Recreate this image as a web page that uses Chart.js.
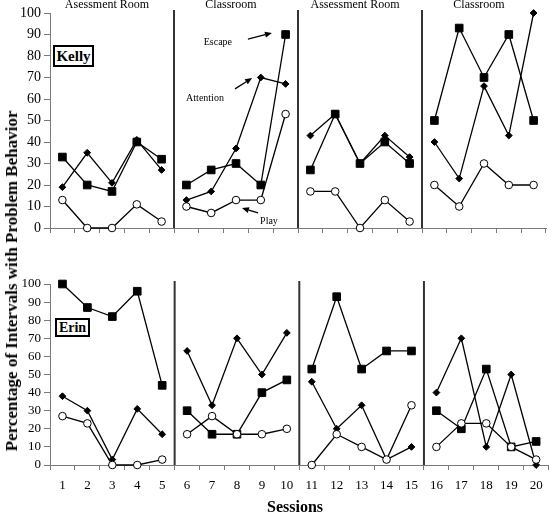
<!DOCTYPE html>
<html><head><meta charset="utf-8">
<script src="https://cdn.jsdelivr.net/npm/chart.js@4.4.0/dist/chart.umd.min.js"></script>
<style>
html,body{margin:0;padding:0;background:#fff;}
#wrap{position:relative;width:555px;height:514px;overflow:hidden;font-family:"Liberation Serif","Times New Roman",serif;color:#000;}
canvas{position:absolute;left:0;}
#c1{top:0;}
#c2{top:240px;}
.box{position:absolute;box-sizing:border-box;border:2px solid #000;font-weight:bold;display:flex;align-items:center;justify-content:center;background:#fff;}
#ytitle{position:absolute;left:12px;top:281px;transform:translate(-50%,-50%) rotate(-90deg);white-space:nowrap;font-weight:bold;font-size:17px;}
#xtitle{position:absolute;left:295px;top:507px;transform:translate(-50%,-50%);white-space:nowrap;font-weight:bold;font-size:16px;}
</style></head>
<body>
<div id="wrap">
<canvas id="c1" width="555" height="240"></canvas>
<canvas id="c2" width="555" height="274"></canvas>
<div id="ytitle">Percentage of Intervals with Problem Behavior</div>
<div id="xtitle">Sessions</div>
<div class="box" style="left:53px;top:45px;width:41px;height:22px;font-size:15px;">Kelly</div>
<div class="box" style="left:55px;top:318px;width:35px;height:19px;font-size:14px;">Erin</div>
</div>
<script>
// ---------- data ----------
const sessions = ['1','2','3','4','5','6','7','8','9','10','11','12','13','14','15','16','17','18','19','20'];
const phaseNames = ['Asessment Room','Classroom','Assessment Room','Classroom'];
const phaseEnds = [5,10,15];           // last session of each phase
const yMin = 0, yMax = 100, yStep = 10;

const kellyEscape    = [33,20,17,40,32, 20,27,30,20,90, 27,53,30,40,30, 50,93,70,90,50];
const kellyAttention = [19,35,21,41,27, 13,17,37,70,67, 43,53,30,43,33, 40,23,66,43,100];
const kellyPlay      = [13,0,0,11,3,    10,7,13,13,53,  17,17,0,13,3,   20,10,30,20,20];

const erinEscape     = [100,87,82,96,44, 30,17,17,40,47, 53,93,53,63,63, 30,20,53,10,13];
const erinAttention  = [38,30,3,31,17,   63,33,70,50,73, 46,20,33,3,10,  40,70,10,50,0];
const erinPlay       = [27,23,0,0,3,     17,27,17,17,20, 0,17,10,3,33,   10,23,23,10,3];

// annotations for Kelly (session position, value)
const noteLabels = ['Escape','Attention','Play'];
const noteText   = [[7.27,86.5],[6.75,60.5],[9.33,3.3]];
const noteFrom   = [[8.48,87.9],[7.96,64.7],[8.89,7.0]];
const noteTo     = [[9.45,90.7],[8.65,69.8],[8.24,9.3]];

// ---------- drawing ----------
const FONT = '"Liberation Serif","Times New Roman",serif';
const AXIS = '#7a7a7a';
const breakIdx = phaseEnds.map(s => sessions.indexOf(String(s)));

function ds(label, data, style, order) {
  const base = {label, data, order, borderColor:'#000', borderWidth:1.3, clip:false, tension:0,
    pointBorderColor:'#000', pointBorderWidth:1, pointHoverRadius:0,
    segment:{borderColor: c => breakIdx.includes(c.p0DataIndex) ? 'rgba(0,0,0,0)' : '#000'}};
  if (style==='rect') Object.assign(base,{pointStyle:'rect', pointRadius:5.4, pointBackgroundColor:'#000'});
  if (style==='rectRot') Object.assign(base,{pointStyle:'rectRot', pointRadius:3.4, pointBackgroundColor:'#000'});
  if (style==='circle') Object.assign(base,{pointStyle:'circle', pointRadius:3.8, pointBackgroundColor:'#fff'});
  return base;
}

function arrow(ctx, x1, y1, x2, y2) {
  const ang = Math.atan2(y2-y1, x2-x1), L = 7, W = 3;
  const bx = x2 - L*Math.cos(ang), by = y2 - L*Math.sin(ang);
  ctx.beginPath(); ctx.moveTo(x1,y1); ctx.lineTo(bx,by); ctx.stroke();
  ctx.beginPath();
  ctx.moveTo(x2,y2);
  ctx.lineTo(bx + W*Math.sin(ang), by - W*Math.cos(ang));
  ctx.lineTo(bx - W*Math.sin(ang), by + W*Math.cos(ang));
  ctx.closePath(); ctx.fill();
}

const phasePlugin = {
  id:'phases',
  beforeDatasetsDraw(chart, args, o) {
    const {ctx, chartArea:a, scales:{x}} = chart;
    ctx.save();
    ctx.strokeStyle = '#333'; ctx.lineWidth = 2;
    phaseEnds.forEach(s => {
      const px = x.getPixelForValue(s - 0.5);
      ctx.beginPath(); ctx.moveTo(px, a.top - 3); ctx.lineTo(px, a.bottom); ctx.stroke();
    });
    if (o.showNames) {
      ctx.fillStyle = '#000'; ctx.font = '12px ' + FONT; ctx.textAlign = 'center'; ctx.textBaseline = 'alphabetic';
      phaseNames.forEach((n, p) => ctx.fillText(n, x.getPixelForValue(p*5 + 2) - 5, o.nameY));
    }
    ctx.restore();
  },
  afterDatasetsDraw(chart, args, o) {
    if (!o.notes) return;
    const {ctx, scales:{x, y}} = chart;
    const P = (pt) => [x.getPixelForValue(pt[0]-1), y.getPixelForValue(pt[1])];
    ctx.save();
    ctx.fillStyle = '#000'; ctx.strokeStyle = '#000'; ctx.lineWidth = 1.3;
    ctx.font = '10px ' + FONT; ctx.textAlign = 'center'; ctx.textBaseline = 'middle';
    noteLabels.forEach((t, i) => {
      const [tx, ty] = P(noteText[i]);
      ctx.fillText(t, tx, ty);
      const [ax, ay] = P(noteFrom[i]); const [bx, by] = P(noteTo[i]);
      arrow(ctx, ax, ay, bx, by);
    });
    ctx.restore();
  }
};

function makeChart(id, esc, att, play, cfg) {
  return new Chart(document.getElementById(id), {
    type:'line',
    data:{labels:sessions, datasets:[
      ds('Play', play, 'circle', 0),
      ds('Escape', esc, 'rect', 1),
      ds('Attention', att, 'rectRot', 2)
    ]},
    options:{
      responsive:false, animation:false, events:[],
      layout:{padding:{top:cfg.padTop, right:cfg.padRight, left:0, bottom:0}},
      plugins:{legend:{display:false}, tooltip:{enabled:false},
        phases:{showNames:cfg.showNames, nameY:8, notes:cfg.notes}},
      scales:{
        x:{type:'category', offset:true,
          grid:{offset:true, drawOnChartArea:false, drawTicks:true, tickLength:5, color:AXIS},
          border:{color:AXIS, width:1},
          ticks:{display:cfg.showX, color:'#000', font:{family:FONT, size:13}, padding:8, maxRotation:0, autoSkip:false},
          afterFit: s => { s.height = cfg.xHeight; }
        },
        y:{min:yMin, max:yMax,
          grid:{drawOnChartArea:false, drawTicks:true, tickLength:6, color:AXIS},
          border:{color:AXIS, width:1},
          ticks:{stepSize:yStep, autoSkip:false, color:'#000', font:{family:FONT, size:cfg.ySize}, padding:3},
          afterFit: s => { s.width = 50; }
        }
      }
    },
    plugins:[phasePlugin]
  });
}

makeChart('c1', kellyEscape, kellyAttention, kellyPlay,
  {padTop:13, padRight:9, showNames:true, notes:true, showX:false, xHeight:12, ySize:14});
makeChart('c2', erinEscape, erinAttention, erinPlay,
  {padTop:44, padRight:0, showNames:false, notes:false, showX:true, xHeight:49, ySize:13});
</script>
</body></html>
